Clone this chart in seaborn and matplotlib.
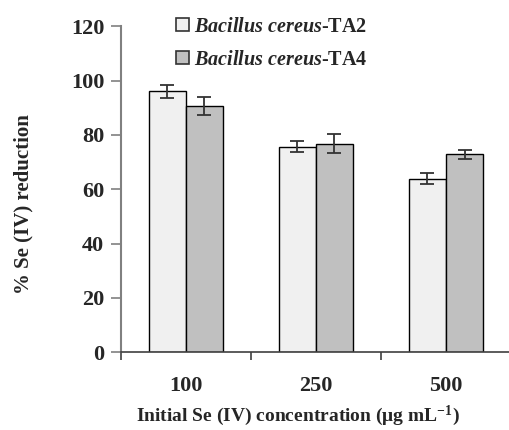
import matplotlib
matplotlib.use("Agg")
import matplotlib.pyplot as plt
import seaborn as sns
import pandas as pd
import numpy as np
from matplotlib.ticker import FixedLocator
from matplotlib.patches import Patch

concentrations = ["100", "250", "500"]
strains = ["TA2", "TA4"]
ta2_values = [96.0, 75.7, 63.8]
ta4_values = [90.8, 76.8, 72.8]
ta2_errors = [2.3, 2.0, 2.0]
ta4_errors = [3.3, 3.6, 1.6]
legend_labels = [r"$\mathit{Bacillus\ cereus}$-TA2", r"$\mathit{Bacillus\ cereus}$-TA4"]

sns.set_style("white")
plt.rcParams["font.family"] = ["Liberation Serif", "DejaVu Serif"]
plt.rcParams["font.weight"] = "bold"
plt.rcParams["mathtext.fontset"] = "custom"
plt.rcParams["mathtext.rm"] = "Liberation Serif:bold"
plt.rcParams["mathtext.it"] = "Liberation Serif:bold:italic"
plt.rcParams["mathtext.bf"] = "Liberation Serif:bold"

df = pd.DataFrame({
    "conc": concentrations * 2,
    "strain": [strains[0]] * 3 + [strains[1]] * 3,
    "value": ta2_values + ta4_values,
})

fig = plt.figure(figsize=(5.1, 4.3), dpi=100)
ax = fig.add_axes([0.237, 0.181, 0.765, 0.758])

sns.barplot(data=df, x="conc", y="value", hue="strain", order=concentrations,
            hue_order=strains, palette=["#f0f0f0", "#c0c0c0"], width=0.57,
            errorbar=None, edgecolor="black", linewidth=1.0, ax=ax, legend=False)

errs = ta2_errors + ta4_errors
vals = ta2_values + ta4_values
bars = [p for p in ax.patches][:6]
for p, v, e in zip(bars, vals, errs):
    cx = p.get_x() + p.get_width() / 2
    ax.errorbar(cx, v, yerr=e, fmt="none", ecolor="#333333", elinewidth=1.3,
                capsize=5, capthick=1.3, zorder=5)

ax.set_ylim(0, 120)
ax.set_xlim(-0.5, 2.5)
ax.set_yticks(np.arange(0, 121, 20))
ax.tick_params(axis="y", direction="out", length=7, width=1.2, color="#808080",
               labelsize=16, pad=5, left=True)
ax.xaxis.set_minor_locator(FixedLocator([-0.5, 0.5, 1.5]))
ax.tick_params(axis="x", which="major", length=0, labelsize=16, pad=17)
ax.tick_params(axis="x", which="minor", direction="out", length=6, width=1.2,
               color="#404040", bottom=True)
for lab in ax.get_xticklabels() + ax.get_yticklabels():
    lab.set_fontweight("bold")

for s in ["top", "right"]:
    ax.spines[s].set_visible(False)
ax.spines["left"].set_color("#808080")
ax.spines["left"].set_linewidth(1.5)
ax.spines["bottom"].set_color("#404040")
ax.spines["bottom"].set_linewidth(1.2)

ax.set_xlabel("Initial Se (IV) concentration (\u03bcg mL$^{-1}$)", fontsize=14,
              fontweight="bold")
ax.xaxis.set_label_coords(0.455, -0.196)
ax.xaxis.label.set_va("center")
ax.set_ylabel("% Se (IV) reduction", fontsize=15, fontweight="bold")
ax.yaxis.set_label_coords(-0.25, 0.455)
ax.yaxis.label.set_va("center")

handles = [Patch(facecolor="#f0f0f0", edgecolor="#333333", linewidth=1.2),
           Patch(facecolor="#c0c0c0", edgecolor="#333333", linewidth=1.2)]
ax.legend(handles, legend_labels, loc="upper left", bbox_to_anchor=(0.095, 1.085),
          frameon=False, fontsize=14.5, handlelength=0.65, handleheight=0.65,
          handletextpad=0.25, labelspacing=0.65)

fig.savefig("out.png", dpi=100)
